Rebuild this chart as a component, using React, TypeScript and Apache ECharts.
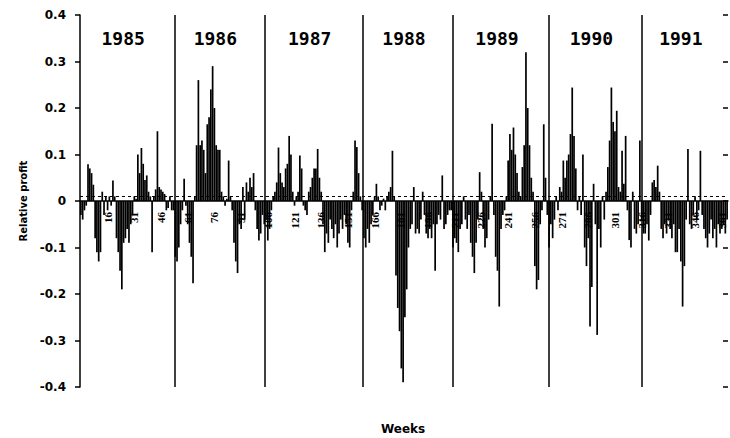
import React, { useEffect, useRef } from 'react';
import * as echarts from 'echarts';

// Weekly relative profit, grouped by the year panels
const profit1985 = [-0.03, -0.04, -0.02, -0.01, 0.079, 0.07, 0.06, 0.035, -0.08, -0.11, -0.13, -0.11, 0.02, -0.03, 0.01, -0.02, 0.01, -0.01, 0.044, 0.01, -0.08, -0.11, -0.15, -0.19, -0.09, -0.08, -0.06, -0.09, -0.05, -0.03, 0.01, 0.005, 0.1, 0.06, 0.114, 0.08, 0.045, 0.055, 0.02, 0.01, -0.11, 0.01, 0.025, 0.15, 0.03, 0.025, 0.02, 0.015, -0.02, -0.015, 0.01, -0.02];
const profit1986 = [-0.02, -0.12, -0.13, -0.1, -0.05, -0.02, 0.048, -0.01, -0.05, -0.09, -0.12, -0.177, 0.01, 0.12, 0.26, 0.12, 0.13, 0.11, 0.06, 0.165, 0.18, 0.24, 0.29, 0.2, 0.12, 0.11, 0.11, 0.02, 0.01, -0.01, 0.005, 0.087, 0.01, -0.02, -0.09, -0.13, -0.155, -0.05, -0.06, 0.03, -0.04, 0.04, 0.02, 0.05, 0.03, 0.06, -0.02, -0.06, -0.085, -0.07, -0.03, -0.05];
const profit1987 = [-0.04, -0.085, -0.06, -0.02, 0.01, 0.02, 0.04, 0.115, 0.06, 0.04, 0.03, 0.07, 0.08, 0.14, 0.1, 0.02, -0.01, 0.01, 0.02, 0.098, 0.07, -0.01, -0.02, -0.03, 0.02, 0.03, 0.05, 0.07, 0.07, 0.112, 0.05, 0.02, -0.05, -0.11, -0.07, -0.09, -0.04, -0.06, -0.08, -0.05, -0.1, -0.07, -0.04, -0.06, -0.03, -0.05, -0.09, -0.1, -0.02, 0.02, 0.13, 0.116, 0.06, 0.01];
const profit1988 = [-0.02, -0.08, -0.1, -0.06, -0.09, -0.05, -0.03, 0.01, 0.037, 0.01, -0.02, -0.01, 0.005, -0.02, 0.01, 0.02, 0.03, 0.108, 0.01, -0.16, -0.23, -0.28, -0.36, -0.39, -0.25, -0.19, -0.1, -0.06, -0.05, 0.03, -0.07, -0.06, -0.07, -0.04, 0.02, -0.03, -0.07, -0.08, -0.06, -0.08, -0.05, -0.15, -0.05, -0.03, -0.04, 0.055, -0.06, -0.05, -0.03, -0.02];
const profit1989 = [-0.02, -0.1, -0.08, -0.09, -0.11, -0.06, -0.05, 0.01, -0.04, -0.06, -0.03, -0.09, -0.12, -0.155, -0.09, -0.04, 0.062, 0.02, -0.06, -0.1, -0.08, -0.04, 0.01, 0.166, -0.03, -0.12, -0.15, -0.227, -0.06, -0.03, -0.02, 0.01, 0.087, 0.144, 0.11, 0.158, 0.1, 0.06, 0.02, 0.01, 0.073, 0.12, 0.32, 0.2, 0.12, 0.05, 0.02, -0.14, -0.19, -0.17, -0.05, -0.02, 0.165, 0.05];
const profit1990 = [-0.03, -0.1, -0.05, -0.08, -0.04, 0.01, -0.02, 0.03, 0.02, 0.087, 0.05, 0.087, 0.1, 0.144, 0.244, 0.14, 0.07, -0.02, 0.01, -0.03, 0.1, -0.1, -0.14, -0.08, -0.27, -0.185, 0.037, -0.05, -0.288, -0.06, -0.1, 0.01, -0.04, 0.02, 0.073, 0.13, 0.244, 0.17, 0.15, 0.194, 0.03, 0.02, 0.108, 0.037, 0.14, -0.02, -0.084, -0.1, 0.02, -0.06, -0.07, -0.05, 0.13];
const profit1991 = [-0.04, -0.07, -0.07, -0.05, -0.085, -0.03, 0.04, 0.045, 0.03, 0.076, 0.02, -0.06, -0.08, -0.05, -0.07, -0.04, -0.06, -0.08, -0.05, -0.11, -0.11, -0.06, -0.13, -0.227, -0.14, -0.04, 0.112, -0.05, -0.06, -0.03, 0.01, -0.04, -0.02, 0.108, -0.03, -0.06, -0.08, -0.1, -0.07, -0.04, -0.08, -0.06, -0.1, -0.05, -0.07, -0.06, -0.05, -0.07, -0.04];

const yearLabels = ['1985', '1986', '1987', '1988', '1989', '1990', '1991'];
// Year separators, in week units (as drawn in the picture)
const yearBreaks = [0.5, 53.5, 104, 159.5, 210, 264, 316, 364.5];
const referenceLevel = 0.015;

const profits = [
  ...profit1985, ...profit1986, ...profit1987, ...profit1988,
  ...profit1989, ...profit1990, ...profit1991,
];
const weeks = profits.map((_, i) => String(i + 1));

export default function App() {
  const ref = useRef<HTMLDivElement>(null);
  useEffect(() => {
    document.body.style.margin = '0';
    const chart = echarts.init(ref.current!, null, { renderer: 'svg' });
    const sans = 'DejaVu Sans';
    chart.setOption({
      animation: false,
      backgroundColor: '#fff',
      grid: { left: 80, right: 2, top: 15, bottom: 51 },
      xAxis: [
        {
          type: 'category',
          data: weeks,
          boundaryGap: true,
          axisLine: { onZero: true, lineStyle: { color: '#000', width: 1.5 } },
          axisTick: { show: false },
          axisLabel: {
            interval: (i: number) => i % 15 === 0 && i > 0,
            rotate: 90,
            margin: -175,
            fontFamily: 'Liberation Serif',
            fontWeight: 'bold',
            fontSize: 11,
            color: '#000',
          },
          splitLine: { show: false },
        },
        { type: 'value', min: 0.5, max: 364.5, show: false },
      ],
      yAxis: [
        {
          type: 'value',
          min: -0.4,
          max: 0.4,
          interval: 0.1,
          name: 'Relative profit',
          nameLocation: 'middle',
          nameRotate: 90,
          nameGap: 50,
          nameTextStyle: { fontFamily: sans, fontWeight: 'bold', fontSize: 10, color: '#000' },
          axisLine: { show: true, onZero: false, lineStyle: { color: '#000', width: 1.5 } },
          axisTick: { show: true, length: 5, lineStyle: { color: '#000', width: 1.5 } },
          axisLabel: {
            margin: 14,
            fontFamily: sans,
            fontWeight: 'bold',
            fontSize: 12,
            color: '#000',
            formatter: (v: number) => (Math.abs(v) < 1e-9 ? '0' : v.toFixed(1)),
          },
          splitLine: { show: false },
        },
        {
          type: 'value',
          min: -0.4,
          max: 0.4,
          interval: 0.1,
          axisLine: { show: false },
          axisTick: { show: true, inside: true, length: 5, lineStyle: { color: '#000', width: 1.5 } },
          axisLabel: { show: false },
          splitLine: { show: false },
        },
      ],
      graphic: [
        {
          type: 'text',
          left: 381,
          top: 423,
          style: { text: 'Weeks', fontFamily: sans, fontWeight: 'bold', fontSize: 12, fill: '#000' },
        },
      ],
      series: [
        {
          type: 'bar',
          xAxisIndex: 0,
          yAxisIndex: 0,
          data: profits,
          barCategoryGap: '4%',
          itemStyle: { color: '#000' },
          markLine: {
            silent: true,
            symbol: 'none',
            label: { show: false },
            lineStyle: { color: '#000', width: 1, type: [3, 3] },
            data: [{ yAxis: referenceLevel }],
          },
        },
        {
          type: 'line',
          xAxisIndex: 1,
          yAxisIndex: 0,
          data: [[1, 0]],
          symbol: 'none',
          lineStyle: { opacity: 0 },
          markLine: {
            silent: true,
            symbol: 'none',
            label: { show: false },
            lineStyle: { color: '#000', width: 1.5, type: 'solid' },
            data: yearBreaks.slice(1, -1).map((x) => ({ xAxis: x })),
          },
          markArea: {
            silent: true,
            itemStyle: { color: 'rgba(0,0,0,0)' },
            label: {
              show: true,
              position: 'insideTop',
              distance: 14,
              offset: [-4, 0],
              fontFamily: 'DejaVu Sans Mono',
              fontWeight: 'bold',
              fontSize: 18,
              color: '#000',
            },
            data: yearLabels.map((name, i) => [
              { name, xAxis: yearBreaks[i] },
              { xAxis: yearBreaks[i + 1] },
            ]),
          },
        },
      ],
    });
    return () => chart.dispose();
  }, []);
  return <div ref={ref} style={{ width: 730, height: 438 }} />;
}
